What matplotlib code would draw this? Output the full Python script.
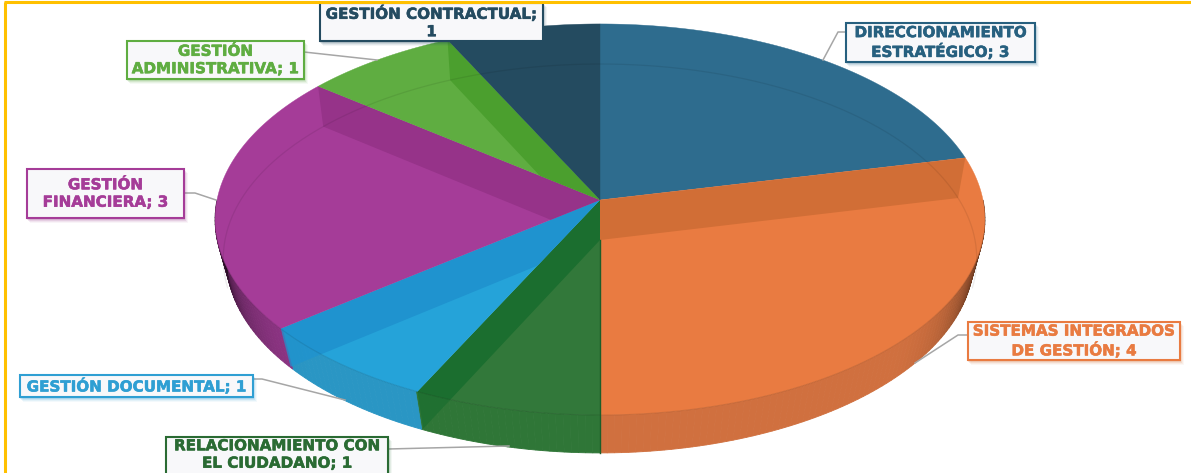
import numpy as np
import matplotlib
matplotlib.use("Agg")
import matplotlib.pyplot as plt
import matplotlib.patheffects as pe
from matplotlib.patches import Polygon, Rectangle

plt.rcParams['font.family'] = ['DejaVu Sans']

categorias = ["DIRECCIONAMIENTO\nESTRATÉGICO; 3", "SISTEMAS INTEGRADOS\nDE GESTIÓN; 4",
              "RELACIONAMIENTO CON\nEL CIUDADANO; 1", "GESTIÓN DOCUMENTAL; 1",
              "GESTIÓN\nFINANCIERA; 3", "GESTIÓN\nADMINISTRATIVA; 1", "GESTIÓN CONTRACTUAL;\n1"]
valores = [3, 4, 1, 1, 3, 1, 1]

colores = ["#2E6C8E", "#E97B41", "#32783A", "#25A3D9", "#A53C98", "#5FAD41", "#244B60"]
paredes = ["#2E6C8E", "#D16E36", "#1B6E2F", "#1F93CF", "#963389", "#4B9F2E", "#244B60"]
lados = ["#2E6C8E", "#D0703F", "#2F7637", "#2A96C4", "#8F3585", "#5FAD41", "#244B60"]
textos = ["#27607F", "#E97B41", "#2A6B33", "#2F9FD3", "#A53C98", "#5FAD41", "#244B60"]

# caja de cada etiqueta en pixeles: x0, y0, x1, y1
cajas = [(846, 23, 1035, 62), (968, 322, 1180, 360), (166, 437, 388, 478), (20, 375, 253, 397),
         (27, 169, 184, 218), (127, 41, 304, 79), (320, 3, 543, 41)]
guias = [[(823, 60), (838, 32), (847, 32)], [(915, 363), (958, 335), (968, 335)],
         [(509, 446), (388, 449)], [(253, 379), (262, 379), (345, 400)],
         [(184, 193), (195, 193), (216, 200)], [(304, 52), (377, 60)], []]

# proyeccion en perspectiva de la cara superior e inferior
ARRIBA = (200, 383, 193.6, 0.0997)
ABAJO = (240, 375, 192.7, 0.095)
LADO = (240, 372, 192.7, 0.095)


def proyectar(theta, cara):
    y0, sx, sy, k = cara
    t = np.radians(theta)
    u, v = np.sin(t), np.cos(t)
    w = 1 + k * v
    return 600 + sx * u / w, y0 - sy * v / w


def mezcla(color, f):
    rgb = np.array(matplotlib.colors.to_rgb(color))
    return tuple(rgb * f)


fig = plt.figure(figsize=(11.91, 4.73), dpi=100)
ax = fig.add_axes([0, 0, 1, 1])
ax.set_xlim(0, 1191)
ax.set_ylim(473, 0)
ax.axis('off')

bordes = np.cumsum([0] + valores) / sum(valores) * 360

# lado del cilindro, se oscurece hacia los extremos
for a in np.arange(90, 270, 1.0):
    i = np.searchsorted(bordes, a + 0.5) - 1
    t = abs(a + 0.5 - 180) / 90
    f = 1 - 0.8 * np.clip((t - 0.5) / 0.42, 0, 1) ** 2
    c = mezcla(lados[i], f)
    x1, y1 = proyectar(np.array([a, a + 1]), ARRIBA)
    x2, y2 = proyectar(np.array([a + 1, a]), LADO)
    ax.fill(np.r_[x1, x2], np.r_[y1, y2], color=c, lw=0.6, zorder=1)

# cara superior
regiones = []
for i in range(len(valores)):
    th = np.linspace(bordes[i], bordes[i + 1], 80)
    x, y = proyectar(th, ARRIBA)
    px = np.r_[600, x]
    py = np.r_[200, y]
    ax.fill(px, py, color=colores[i], lw=0.3, zorder=2)
    regiones.append(Polygon(np.c_[px, py], transform=ax.transData))

# paredes internas vistas a traves de la cara
for j in range(1, len(valores)):
    a = bordes[j]
    if a == 180:
        continue
    i = j if a < 180 else j - 1
    xa, ya = proyectar(a, ARRIBA)
    xb, yb = proyectar(a, ABAJO)
    qx = [600, xa, xb, 600]
    qy = [200, ya, yb, 240]
    pared = ax.fill(qx, qy, color=paredes[i], lw=0, zorder=3)[0]
    pared.set_clip_path(regiones[i])
    th = np.linspace(bordes[i], bordes[i + 1], 80)
    th = th[(th >= 90) & (th <= 270)]
    if len(th) > 1:
        x1, y1 = proyectar(th, ARRIBA)
        x2, y2 = proyectar(th[::-1], LADO)
        lado = Polygon(np.c_[np.r_[x1, x2], np.r_[y1, y2]], transform=ax.transData)
        pared2 = ax.fill(qx, qy, color=paredes[i], lw=0, alpha=0.75, zorder=3)[0]
        pared2.set_clip_path(lado)

# aros finos de las caras
th = np.linspace(-104, 104, 300)
x, y = proyectar(th, ABAJO)
ax.plot(x, y, color="black", alpha=0.08, lw=0.9, zorder=4)
th = np.linspace(100, 260, 300)
x, y = proyectar(th, ARRIBA)
ax.plot(x, y, color="black", alpha=0.1, lw=0.8, zorder=4)
ax.plot([600, 600], [240, 453], color="#1B5E2A", lw=1, zorder=4)

# guias y etiquetas
for g in guias:
    if g:
        ax.plot([p[0] for p in g], [p[1] for p in g], color="#A6A6A6", lw=1.1, zorder=5)

for i, nombre in enumerate(categorias):
    x0, y0, x1, y1 = cajas[i]
    for d, al in [(5, 0.05), (4, 0.08), (3, 0.12), (2, 0.16)]:
        ax.add_patch(Rectangle((x0 + d - 2, y0 + d - 1), x1 - x0 + 1, y1 - y0 + 1,
                               color=paredes[i], alpha=al, lw=0, zorder=6))
    ax.add_patch(Rectangle((x0, y0), x1 - x0, y1 - y0, facecolor="#F8F8FA",
                           edgecolor=textos[i], lw=1.5, zorder=7))
    yt = (y0 + min(y1, 473 + 1)) / 2 - (1 if i == 2 else 0)
    ax.text((x0 + x1) / 2, yt, nombre, ha='center', va='center', color=textos[i],
            fontsize=10.9, fontweight='bold', linespacing=1.2, zorder=8,
            path_effects=[pe.withStroke(linewidth=0.4, foreground=textos[i])])

# marco amarillo
ax.plot([5, 5], [473, 2], color="#FFC000", lw=2.2, zorder=9, solid_capstyle='butt')
ax.plot([4, 1191], [2, 2], color="#FFC000", lw=2.2, zorder=9, solid_capstyle='butt')

plt.savefig("out.png", dpi=100)
